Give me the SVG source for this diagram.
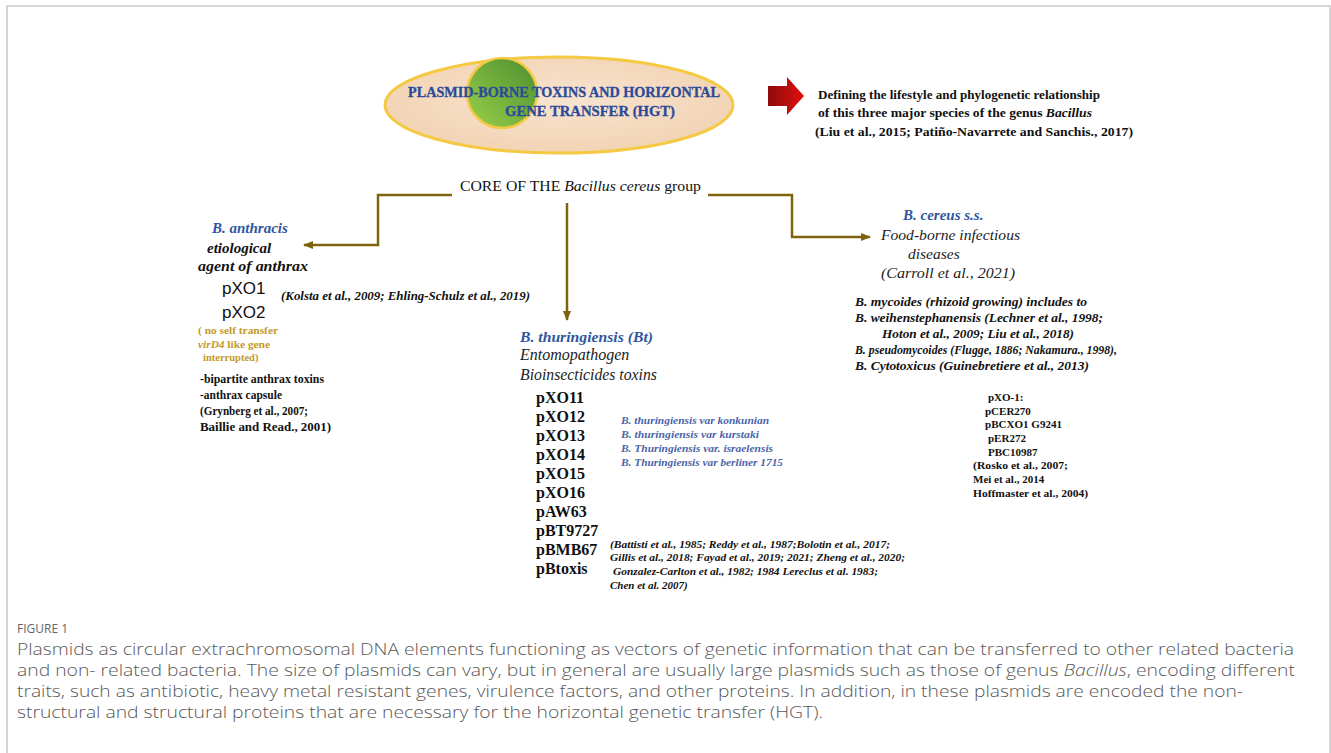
<svg xmlns="http://www.w3.org/2000/svg" width="1331" height="753" viewBox="0 0 1331 753">
<defs>
<radialGradient id="gEll" cx="50%" cy="45%" r="60%">
<stop offset="0" stop-color="#f8e4cf"/>
<stop offset="1" stop-color="#f1d2b2"/>
</radialGradient>
<linearGradient id="gGreen" x1="0" y1="1" x2="1" y2="0">
<stop offset="0" stop-color="#9bd04a"/>
<stop offset="1" stop-color="#4a8e2e"/>
</linearGradient>
<linearGradient id="gRed" x1="0" y1="0" x2="1" y2="0">
<stop offset="0" stop-color="#8e0a0a"/>
<stop offset="1" stop-color="#e01010"/>
</linearGradient>
<marker id="arr" viewBox="0 0 10 8" refX="9" refY="4" markerWidth="10" markerHeight="8" markerUnits="userSpaceOnUse" orient="auto">
<path d="M0,0 L10,4 L0,8 z" fill="#7f6410"/>
</marker>
<style>
.sb{font-family:"Liberation Serif","Times New Roman",serif;font-weight:bold;fill:#111}
.sbi{font-family:"Liberation Serif","Times New Roman",serif;font-weight:bold;font-style:italic;fill:#111}
.si{font-family:"Liberation Serif","Times New Roman",serif;font-style:italic;fill:#222}
.blue{fill:#2f56a0}
.lblue{fill:#4a64a8}
.gold{fill:#c39a2a}
.sans{font-family:"Liberation Sans",Arial,sans-serif;fill:#111}
.cap{font-family:"Open Sans","Liberation Sans",sans-serif;fill:#595959;font-weight:300}
.conn{fill:none;stroke:#7f6410;stroke-width:2.5}
</style>
</defs>
<rect x="7" y="6" width="1323" height="800" fill="#fff" stroke="#c8c8c8" stroke-width="1.5"/>

<g id="title-node">
<ellipse cx="559" cy="105" rx="174" ry="48" fill="url(#gEll)" stroke="#f6c945" stroke-width="3"/>
<circle cx="502" cy="93" r="35" fill="url(#gGreen)" stroke="#f6c945" stroke-width="2.5"/>
<text x="408" y="97" class="sb" font-size="15" style="fill:#2b4a9c" stroke="#2b4a9c" stroke-width="0.3" textLength="312" lengthAdjust="spacingAndGlyphs">PLASMID-BORNE TOXINS AND HORIZONTAL</text>
<text x="505" y="116" class="sb" font-size="15" style="fill:#2b4a9c" stroke="#2b4a9c" stroke-width="0.3" textLength="170" lengthAdjust="spacingAndGlyphs">GENE TRANSFER (HGT)</text>
</g>

<g id="note-node">
<path d="M768,86 H787 V77 L804,96 L787,115 V106 H768 z" fill="url(#gRed)"/>
<text x="818" y="99" class="sb" font-size="12" textLength="282" lengthAdjust="spacingAndGlyphs">Defining the lifestyle and phylogenetic  relationship</text>
<text x="818" y="117" class="sb" font-size="12" textLength="274" lengthAdjust="spacingAndGlyphs">of this three major  species of the genus <tspan font-style="italic">Bacillus</tspan></text>
<text x="815" y="136" class="sb" font-size="12" textLength="318" lengthAdjust="spacingAndGlyphs">(Liu  et al., 2015; Patiño-Navarrete  and Sanchis., 2017)</text>
</g>

<g id="core-node">
<text x="460" y="191" font-family="Liberation Serif, Times New Roman, serif" font-size="14.5" fill="#111" textLength="241" lengthAdjust="spacingAndGlyphs">CORE OF THE <tspan font-style="italic">Bacillus cereus</tspan> group</text>
</g>

<g id="connectors">
<polyline class="conn" points="452,195 378,195 378,245 304,245" marker-end="url(#arr)"/>
<line class="conn" x1="567" y1="203" x2="567" y2="320" marker-end="url(#arr)"/>
<polyline class="conn" points="708,195 792,195 792,237 870,237" marker-end="url(#arr)"/>
</g>

<g id="anthracis-node">
<text x="212" y="233" class="sbi blue" font-size="15">B. anthracis</text>
<text x="207" y="253" class="sbi" font-size="15">etiological</text>
<text x="198" y="271" class="sbi" font-size="15" textLength="110" lengthAdjust="spacingAndGlyphs">agent of anthrax</text>
<text x="222" y="294" class="sans" font-size="17">pXO1</text>
<text x="222" y="318" class="sans" font-size="17">pXO2</text>
<text x="281" y="300" class="sbi" font-size="11.5" textLength="249" lengthAdjust="spacingAndGlyphs">(Kolsta et al., 2009;  Ehling-Schulz et al., 2019)</text>
<text x="198" y="334" class="sb gold" font-size="10.5" textLength="80" lengthAdjust="spacingAndGlyphs">( no self transfer</text>
<text x="198" y="348" class="sb gold" font-size="10.5" textLength="72" lengthAdjust="spacingAndGlyphs"><tspan font-style="italic">virD4</tspan> like gene</text>
<text x="203" y="361" class="sb gold" font-size="10.5">interrupted)</text>
<text x="200" y="383" class="sb" font-size="12" textLength="124" lengthAdjust="spacingAndGlyphs">-bipartite  anthrax  toxins</text>
<text x="200" y="399" class="sb" font-size="12" textLength="82" lengthAdjust="spacingAndGlyphs">-anthrax  capsule</text>
<text x="200" y="415" class="sb" font-size="12" textLength="108" lengthAdjust="spacingAndGlyphs">(Grynberg  et al., 2007;</text>
<text x="200" y="431" class="sb" font-size="12" textLength="131" lengthAdjust="spacingAndGlyphs">Baillie and Read., 2001)</text>
</g>

<g id="thuringiensis-node">
<text x="520" y="342" class="sbi blue" font-size="15" textLength="133" lengthAdjust="spacingAndGlyphs">B. thuringiensis (Bt)</text>
<text x="520" y="360" class="si" font-size="16">Entomopathogen</text>
<text x="520" y="380" class="si" font-size="16" textLength="137" lengthAdjust="spacingAndGlyphs">Bioinsecticides toxins</text>
<text x="536" y="403" class="sb" font-size="16">pXO11</text>
<text x="536" y="422" class="sb" font-size="16">pXO12</text>
<text x="536" y="441" class="sb" font-size="16">pXO13</text>
<text x="536" y="460" class="sb" font-size="16">pXO14</text>
<text x="536" y="479" class="sb" font-size="16">pXO15</text>
<text x="536" y="498" class="sb" font-size="16">pXO16</text>
<text x="536" y="517" class="sb" font-size="16">pAW63</text>
<text x="536" y="536" class="sb" font-size="16">pBT9727</text>
<text x="536" y="555" class="sb" font-size="16">pBMB67</text>
<text x="536" y="574" class="sb" font-size="16">pBtoxis</text>
<text x="621" y="424" class="sbi lblue" font-size="11" style="font-weight:600" textLength="148" lengthAdjust="spacingAndGlyphs">B. thuringiensis var  konkunian</text>
<text x="621" y="438" class="sbi lblue" font-size="11" style="font-weight:600" textLength="138" lengthAdjust="spacingAndGlyphs">B. thuringiensis var kurstaki</text>
<text x="621" y="452" class="sbi lblue" font-size="11" style="font-weight:600" textLength="152" lengthAdjust="spacingAndGlyphs">B. Thuringiensis var. israelensis</text>
<text x="621" y="466" class="sbi lblue" font-size="11" style="font-weight:600" textLength="162" lengthAdjust="spacingAndGlyphs">B. Thuringiensis var berliner 1715</text>
<text x="610" y="548" class="sbi" font-size="11" textLength="280" lengthAdjust="spacingAndGlyphs">(Battisti et al., 1985; Reddy et al., 1987;Bolotin et al., 2017;</text>
<text x="610" y="561" class="sbi" font-size="11" textLength="295" lengthAdjust="spacingAndGlyphs">Gillis et al., 2018;  Fayad et al., 2019; 2021; Zheng et al., 2020;</text>
<text x="613" y="575" class="sbi" font-size="11" textLength="265" lengthAdjust="spacingAndGlyphs">Gonzalez-Carlton et al., 1982; 1984 Lereclus et al. 1983;</text>
<text x="610" y="589" class="sbi" font-size="11">Chen  et al. 2007)</text>
</g>

<g id="cereus-node">
<text x="903" y="220" class="sbi blue" font-size="15">B. cereus s.s.</text>
<text x="881" y="240" class="si" font-size="15.5" textLength="139" lengthAdjust="spacingAndGlyphs">Food-borne infectious</text>
<text x="908" y="259" class="si" font-size="15.5">diseases</text>
<text x="881" y="278" class="si" font-size="15.5" textLength="134" lengthAdjust="spacingAndGlyphs">(Carroll et al., 2021)</text>
<text x="855" y="306" class="sbi" font-size="12" textLength="232" lengthAdjust="spacingAndGlyphs">B. mycoides (rhizoid growing) includes to</text>
<text x="855" y="322" class="sbi" font-size="12" textLength="248" lengthAdjust="spacingAndGlyphs">B. weihenstephanensis (Lechner et al., 1998;</text>
<text x="882" y="338" class="sbi" font-size="12" textLength="192" lengthAdjust="spacingAndGlyphs">Hoton et al., 2009; Liu et al., 2018)</text>
<text x="855" y="354" class="sbi" font-size="12" textLength="262" lengthAdjust="spacingAndGlyphs">B. pseudomycoides (Flugge, 1886; Nakamura., 1998),</text>
<text x="855" y="370" class="sbi" font-size="12" textLength="234" lengthAdjust="spacingAndGlyphs">B. Cytotoxicus (Guinebretiere et al., 2013)</text>
<text x="988" y="401" class="sb" font-size="11">pXO-1:</text>
<text x="985" y="415" class="sb" font-size="11">pCER270</text>
<text x="985" y="428" class="sb" font-size="11" textLength="77" lengthAdjust="spacingAndGlyphs">pBCXO1  G9241</text>
<text x="988" y="442" class="sb" font-size="11">pER272</text>
<text x="988" y="456" class="sb" font-size="11">PBC10987</text>
<text x="973" y="469" class="sb" font-size="11" textLength="95" lengthAdjust="spacingAndGlyphs">(Rosko et al., 2007;</text>
<text x="973" y="483" class="sb" font-size="11">Mei  et al., 2014</text>
<text x="973" y="497" class="sb" font-size="11" textLength="115" lengthAdjust="spacingAndGlyphs">Hoffmaster  et al., 2004)</text>
</g>

<g id="caption">
<text x="17" y="633" class="cap" font-size="12" style="font-weight:400;fill:#666">FIGURE 1</text>
<text x="17" y="655" class="cap" font-size="16" textLength="1277" lengthAdjust="spacingAndGlyphs">Plasmids as circular extrachromosomal DNA elements functioning as vectors of genetic information that can be transferred to other related bacteria</text>
<text x="17" y="676" class="cap" font-size="16" textLength="1278" lengthAdjust="spacingAndGlyphs">and non- related bacteria. The size of plasmids can vary, but in general are usually large plasmids such as those of genus <tspan font-style="italic">Bacillus</tspan>, encoding different</text>
<text x="17" y="697" class="cap" font-size="16" textLength="1226" lengthAdjust="spacingAndGlyphs">traits, such as antibiotic, heavy metal resistant genes, virulence factors, and other proteins. In addition, in these plasmids are encoded the non-</text>
<text x="17" y="718" class="cap" font-size="16" textLength="806" lengthAdjust="spacingAndGlyphs">structural and structural proteins that are necessary for the horizontal genetic transfer (HGT).</text>
</g>
</svg>
